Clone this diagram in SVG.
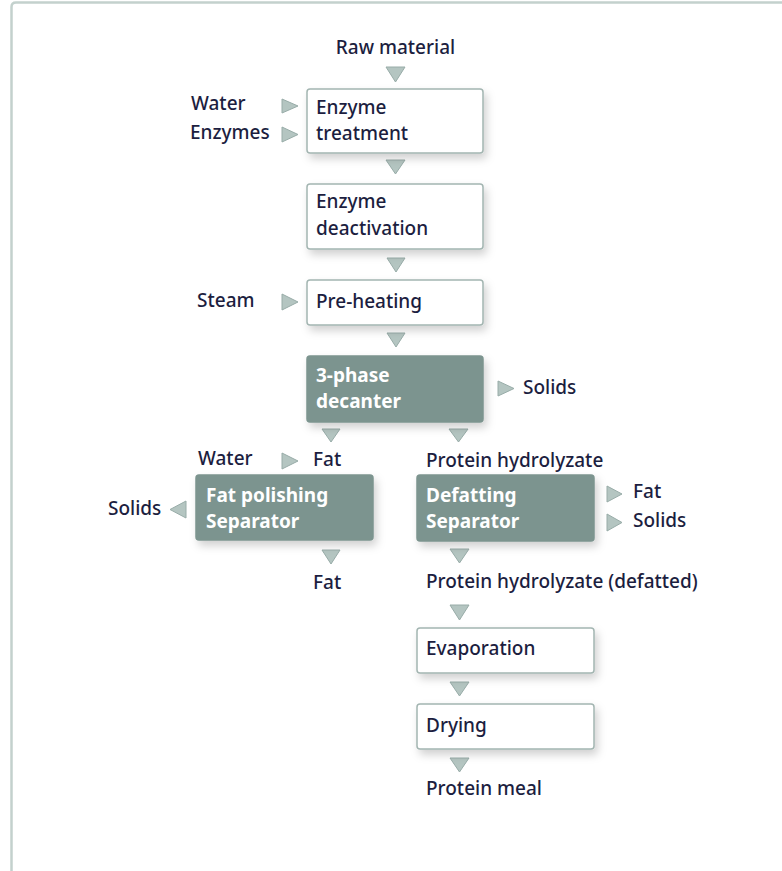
<svg xmlns="http://www.w3.org/2000/svg" width="782" height="871" viewBox="0 0 782 871">
<style>
text{font-family:"Noto Sans","Open Sans","Liberation Sans",sans-serif;font-size:19px;font-weight:500;fill:#1c1e40}
.wb{fill:#ffffff;stroke:#a3b5b1;stroke-width:1.5}
.db{fill:#7c948f;stroke:#7c948f;stroke-width:1.5}
.dt{fill:#ffffff;font-weight:bold}
.tri{fill:#b4c5c1;stroke:#98aca8;stroke-width:1}
</style>
<defs>
<filter id="sh" x="-20%" y="-30%" width="150%" height="180%">
<feDropShadow dx="3" dy="5" stdDeviation="4" flood-color="#000" flood-opacity="0.18"/>
</filter>
</defs>
<rect width="782" height="871" fill="#ffffff"/>
<path d="M11.5,871 V7 Q11.5,2.5 16,2.5 H782" fill="none" stroke="#c3d1cd" stroke-width="2.5"/>

<g id="connectors">
<polygon class="tri" points="386,67 405,67 395.5,82"/>
<polygon class="tri" points="386,160 405,160 395.5,174"/>
<polygon class="tri" points="387,258 405,258 396,272"/>
<polygon class="tri" points="387,333 405,333 396,347"/>
<polygon class="tri" points="282,99 298,106 282,113"/>
<polygon class="tri" points="282,127 298,134.5 282,142"/>
<polygon class="tri" points="282,294 298,302 282,310"/>
<polygon class="tri" points="498,381 514,388.5 498,396"/>
<polygon class="tri" points="322,429 340,429 331,442"/>
<polygon class="tri" points="449,429 468,429 458.5,442"/>
<polygon class="tri" points="282,453 298,461 282,469"/>
<polygon class="tri" points="186,501 170,509.5 186,518"/>
<polygon class="tri" points="322,550 340,550 331,564"/>
<polygon class="tri" points="607,486 622,494 607,502"/>
<polygon class="tri" points="607,514 622,522.5 607,531"/>
<polygon class="tri" points="450,549 469,549 459.5,563"/>
<polygon class="tri" points="450,605 469,605 459.5,620"/>
<polygon class="tri" points="450,682 469,682 459.5,696"/>
<polygon class="tri" points="450,758 469,758 459.5,772"/>
</g>

<g id="labels">
<text x="395.5" y="54" text-anchor="middle">Raw material</text>
<text x="191" y="110">Water</text>
<text x="190" y="139">Enzymes</text>
<text x="197" y="307">Steam</text>
<text x="523" y="394">Solids</text>
<text x="198" y="465">Water</text>
<text x="313" y="466">Fat</text>
<text x="426" y="467">Protein hydrolyzate</text>
<text x="108" y="515">Solids</text>
<text x="633" y="498">Fat</text>
<text x="633" y="527">Solids</text>
<text x="313" y="589">Fat</text>
<text x="426" y="588">Protein hydrolyzate (defatted)</text>
<text x="426" y="795">Protein meal</text>
</g>

<g id="enzyme-treatment">
<rect class="wb" x="307" y="89" width="176" height="64" rx="3" filter="url(#sh)"/>
<text x="316" y="114">Enzyme</text>
<text x="316" y="140">treatment</text>
</g>
<g id="enzyme-deactivation">
<rect class="wb" x="307" y="184" width="176" height="65" rx="3" filter="url(#sh)"/>
<text x="316" y="208">Enzyme</text>
<text x="316" y="235">deactivation</text>
</g>
<g id="pre-heating">
<rect class="wb" x="307" y="280" width="176" height="45" rx="3" filter="url(#sh)"/>
<text x="316" y="308">Pre-heating</text>
</g>
<g id="decanter">
<rect class="db" x="307" y="356" width="176" height="66" rx="3" filter="url(#sh)"/>
<text class="dt" x="316" y="382">3-phase</text>
<text class="dt" x="316" y="408">decanter</text>
</g>
<g id="fat-polishing-separator">
<rect class="db" x="196" y="475" width="177" height="65" rx="3" filter="url(#sh)"/>
<text class="dt" x="206" y="502">Fat polishing</text>
<text class="dt" x="206" y="528">Separator</text>
</g>
<g id="defatting-separator">
<rect class="db" x="417" y="475" width="177" height="66" rx="3" filter="url(#sh)"/>
<text class="dt" x="426" y="502">Defatting</text>
<text class="dt" x="426" y="528">Separator</text>
</g>
<g id="evaporation">
<rect class="wb" x="417" y="628" width="177" height="45" rx="3" filter="url(#sh)"/>
<text x="426" y="655">Evaporation</text>
</g>
<g id="drying">
<rect class="wb" x="417" y="704" width="177" height="45" rx="3" filter="url(#sh)"/>
<text x="426" y="732">Drying</text>
</g>
</svg>
